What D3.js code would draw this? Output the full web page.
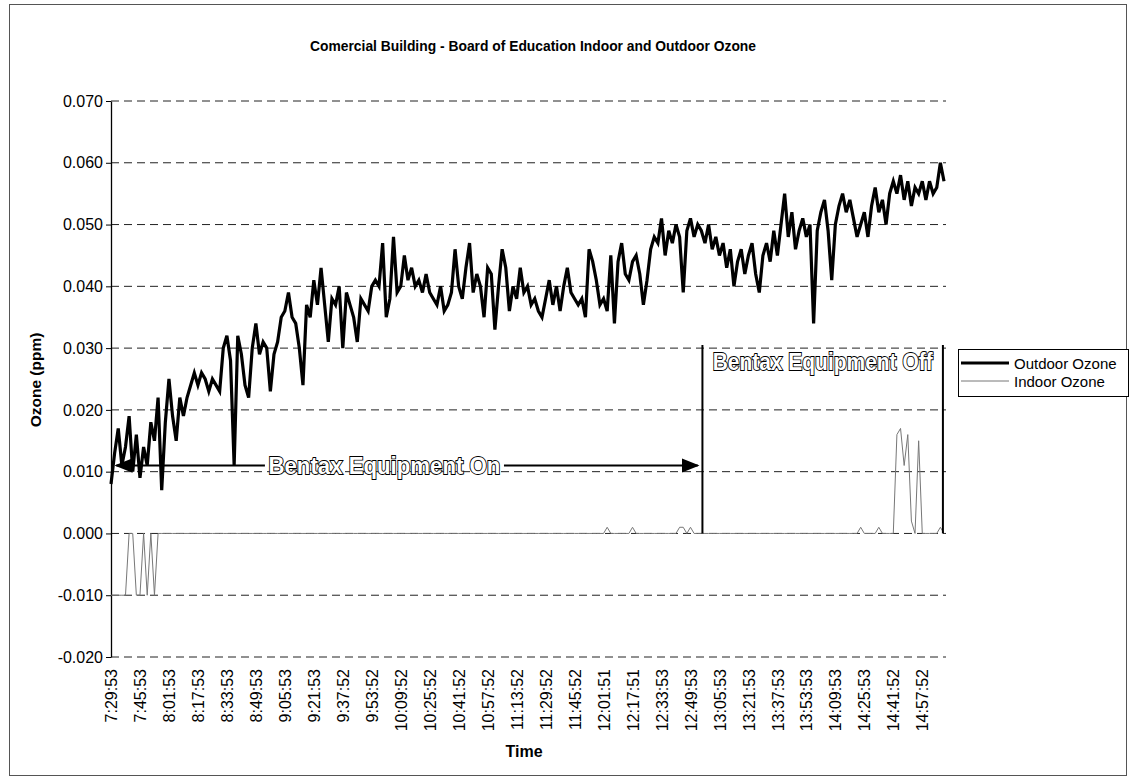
<!DOCTYPE html>
<html>
<head>
<meta charset="utf-8">
<script src="https://cdn.jsdelivr.net/npm/d3@7"></script>
<style>
  body { margin: 0; background: #fff; }
  svg { display: block; font-family: Arial, "Liberation Sans", sans-serif; }
</style>
</head>
<body>
<div id="chart"></div>
<script>
// samples every 2 minutes starting 7:29:53, a label every 8th sample
var timeLabels = ['7:29:53', '7:45:53', '8:01:53', '8:17:53', '8:33:53', '8:49:53', '9:05:53', '9:21:53',
    '9:37:52', '9:53:52', '10:09:52', '10:25:52', '10:41:52', '10:57:52', '11:13:52', '11:29:52',
    '11:45:52', '12:01:51', '12:17:51', '12:33:53', '12:49:53', '13:05:53', '13:21:53', '13:37:53',
    '13:53:53', '14:09:53', '14:25:53', '14:41:52', '14:57:52'];

var yTicks = [-0.02, -0.01, 0, 0.01, 0.02, 0.03, 0.04, 0.05, 0.06, 0.07];

var outdoorOzone = [
    0.008, 0.013, 0.017, 0.011, 0.014, 0.019, 0.010, 0.016,
    0.009, 0.014, 0.011, 0.018, 0.015, 0.022, 0.007, 0.018,
    0.025, 0.019, 0.015, 0.022, 0.019, 0.022, 0.024, 0.026,
    0.024, 0.026, 0.025, 0.023, 0.025, 0.024, 0.023, 0.030,
    0.032, 0.028, 0.011, 0.032, 0.029, 0.024, 0.022, 0.030,
    0.034, 0.029, 0.031, 0.030, 0.023, 0.029, 0.031, 0.035,
    0.036, 0.039, 0.035, 0.034, 0.030, 0.024, 0.037, 0.035,
    0.041, 0.037, 0.043, 0.037, 0.031, 0.038, 0.037, 0.040,
    0.030, 0.039, 0.037, 0.035, 0.031, 0.038, 0.037, 0.036,
    0.040, 0.041, 0.040, 0.047, 0.035, 0.038, 0.048, 0.039,
    0.040, 0.045, 0.041, 0.043, 0.040, 0.041, 0.039, 0.042,
    0.039, 0.038, 0.037, 0.040, 0.036, 0.037, 0.039, 0.046,
    0.040, 0.038, 0.043, 0.047, 0.039, 0.042, 0.040, 0.035,
    0.043, 0.042, 0.033, 0.040, 0.046, 0.043, 0.036, 0.040,
    0.038, 0.043, 0.039, 0.040, 0.037, 0.038, 0.036, 0.035,
    0.038, 0.041, 0.037, 0.040, 0.036, 0.040, 0.043, 0.039,
    0.038, 0.037, 0.038, 0.035, 0.046, 0.044, 0.041, 0.037,
    0.038, 0.036, 0.045, 0.034, 0.044, 0.047, 0.042, 0.041,
    0.044, 0.045, 0.042, 0.037, 0.041, 0.046, 0.048, 0.047,
    0.051, 0.045, 0.049, 0.047, 0.050, 0.048, 0.039, 0.049,
    0.051, 0.048, 0.050, 0.049, 0.047, 0.050, 0.046, 0.048,
    0.045, 0.047, 0.043, 0.046, 0.040, 0.044, 0.046, 0.042,
    0.045, 0.047, 0.042, 0.039, 0.045, 0.047, 0.044, 0.049,
    0.045, 0.050, 0.055, 0.048, 0.052, 0.046, 0.049, 0.051,
    0.048, 0.050, 0.034, 0.049, 0.052, 0.054, 0.049, 0.041,
    0.050, 0.053, 0.055, 0.052, 0.054, 0.051, 0.048, 0.050,
    0.052, 0.048, 0.053, 0.056, 0.052, 0.054, 0.050, 0.055,
    0.057, 0.055, 0.058, 0.054, 0.057, 0.053, 0.056, 0.055,
    0.057, 0.054, 0.057, 0.055, 0.056, 0.060, 0.057
];

var indoorOzone = [
    -0.010, -0.010, -0.010, -0.010, -0.010, 0, 0, -0.010,
    -0.010, 0, -0.010, 0, -0.010, 0, 0, 0,
    0, 0, 0, 0, 0, 0, 0, 0,
    0, 0, 0, 0, 0, 0, 0, 0,
    0, 0, 0, 0, 0, 0, 0, 0,
    0, 0, 0, 0, 0, 0, 0, 0,
    0, 0, 0, 0, 0, 0, 0, 0,
    0, 0, 0, 0, 0, 0, 0, 0,
    0, 0, 0, 0, 0, 0, 0, 0,
    0, 0, 0, 0, 0, 0, 0, 0,
    0, 0, 0, 0, 0, 0, 0, 0,
    0, 0, 0, 0, 0, 0, 0, 0,
    0, 0, 0, 0, 0, 0, 0, 0,
    0, 0, 0, 0, 0, 0, 0, 0,
    0, 0, 0, 0, 0, 0, 0, 0,
    0, 0, 0, 0, 0, 0, 0, 0,
    0, 0, 0, 0, 0, 0, 0, 0,
    0, 0.001, 0, 0, 0, 0, 0, 0,
    0.001, 0, 0, 0, 0, 0, 0, 0,
    0, 0, 0, 0, 0, 0.001, 0.001, 0,
    0.001, 0, 0, 0, 0, 0, 0, 0,
    0, 0, 0, 0, 0, 0, 0, 0,
    0, 0, 0, 0, 0, 0, 0, 0,
    0, 0, 0, 0, 0, 0, 0, 0,
    0, 0, 0, 0, 0, 0, 0, 0,
    0, 0, 0, 0, 0, 0, 0, 0.001,
    0, 0, 0, 0, 0.001, 0, 0, 0,
    0, 0.016, 0.017, 0.011, 0.016, 0.002, 0, 0.015,
    0, 0, 0, 0, 0, 0.001, 0
];

var totalWidth = 1131;
var totalHeight = 778;
var plot = { left: 111, right: 944, top: 101, bottom: 657 };
var fontStack = 'Arial, "Liberation Sans", sans-serif';

var svg = d3.select('#chart').append('svg')
    .attr('width', totalWidth)
    .attr('height', totalHeight);

// outer frame
svg.append('rect')
    .attr('x', 9.5).attr('y', 4.5)
    .attr('width', 1117).attr('height', 771)
    .attr('fill', 'none').attr('stroke', '#555').attr('stroke-width', 1);

var xScale = d3.scaleLinear()
    .domain([0, outdoorOzone.length - 1])
    .range([plot.left, plot.right]);

var yScale = d3.scaleLinear()
    .domain([-0.02, 0.07])
    .range([plot.bottom, plot.top]);

// dashed gridlines
svg.append('g').selectAll('line')
    .data(yTicks)
    .enter()
    .append('line')
    .attr('x1', plot.left).attr('x2', plot.right + 2)
    .attr('y1', d => yScale(d)).attr('y2', d => yScale(d))
    .attr('stroke', '#222').attr('stroke-width', 1)
    .attr('stroke-dasharray', '8,5');

// y axis
var yAxis = d3.axisLeft(yScale)
    .tickValues(yTicks)
    .tickFormat(d => d.toFixed(3))
    .tickSizeInner(5).tickSizeOuter(0).tickPadding(3);
var yAxisGroup = svg.append('g')
    .attr('transform', `translate(${plot.left},0)`)
    .call(yAxis);
yAxisGroup.selectAll('path').attr('stroke', '#000').attr('stroke-width', 1.3);
yAxisGroup.selectAll('line').attr('stroke', '#000');
yAxisGroup.selectAll('text').attr('fill', '#000').attr('font-size', 16)
    .attr('font-family', fontStack);

// x axis (labels only, category style)
var xAxis = d3.axisBottom(xScale)
    .tickValues(timeLabels.map((t, i) => i * 8))
    .tickFormat((d, i) => timeLabels[i])
    .tickSize(0);
var xAxisGroup = svg.append('g')
    .attr('transform', `translate(0,${plot.bottom})`)
    .call(xAxis);
xAxisGroup.select('.domain').remove();
xAxisGroup.selectAll('text')
    .attr('fill', '#000').attr('font-size', 16)
    .attr('font-family', fontStack)
    .attr('text-anchor', 'end')
    .attr('dy', '0.35em')
    .attr('transform', 'translate(0,12) rotate(-90)')
    .attr('x', 0).attr('y', 0);

// series
var line = d3.line()
    .x((d, i) => xScale(i))
    .y(d => yScale(d));

svg.append('path')
    .datum(indoorOzone)
    .attr('d', line)
    .attr('fill', 'none')
    .attr('stroke', '#777')
    .attr('stroke-width', 1);

svg.append('path')
    .datum(outdoorOzone)
    .attr('d', line)
    .attr('fill', 'none')
    .attr('stroke', '#000')
    .attr('stroke-width', 3.2)
    .attr('stroke-linejoin', 'miter');

// annotations
var markerDefs = svg.append('defs');
markerDefs.append('marker')
    .attr('id', 'arrow')
    .attr('viewBox', '0 0 10 10')
    .attr('refX', 9).attr('refY', 5)
    .attr('markerWidth', 9).attr('markerHeight', 9)
    .attr('orient', 'auto-start-reverse')
    .append('path')
    .attr('d', 'M0,1 L10,5 L0,9 Z')
    .attr('fill', '#000');

var arrowY = yScale(0.0110);
svg.append('line')
    .attr('x1', xScale(1.5)).attr('x2', xScale(42.5))
    .attr('y1', arrowY).attr('y2', arrowY)
    .attr('stroke', '#000').attr('stroke-width', 2)
    .attr('marker-start', 'url(#arrow)');
svg.append('line')
    .attr('x1', xScale(108.5)).attr('x2', xScale(162))
    .attr('y1', arrowY).attr('y2', arrowY)
    .attr('stroke', '#000').attr('stroke-width', 2)
    .attr('marker-end', 'url(#arrow)');

function outlinedText(x, y, txt, len) {
    svg.append('text')
        .attr('x', x).attr('y', y)
        .attr('text-anchor', 'middle')
        .attr('font-size', 23).attr('font-weight', 'bold')
        .attr('font-family', fontStack)
        .attr('textLength', len).attr('lengthAdjust', 'spacingAndGlyphs')
        .attr('fill', '#fff')
        .attr('stroke', '#000').attr('stroke-width', 1.8)
        .attr('paint-order', 'stroke')
        .style('opacity', 0.999)
        .text(txt);
}
outlinedText(xScale(75.5), arrowY + 9, 'Bentax Equipment On', 232);

[163.3, 229.7].forEach(function(i) {
    svg.append('line')
        .attr('x1', xScale(i)).attr('x2', xScale(i))
        .attr('y1', yScale(0.0305)).attr('y2', yScale(0))
        .attr('stroke', '#000').attr('stroke-width', 2);
});
outlinedText((xScale(163.3) + xScale(229.7)) / 2, yScale(0.0265), 'Bentax Equipment Off', 220);

// titles
svg.append('text')
    .attr('x', 533).attr('y', 51)
    .attr('text-anchor', 'middle')
    .attr('font-size', 15.5).attr('font-weight', 'bold')
    .attr('textLength', 446).attr('lengthAdjust', 'spacingAndGlyphs')
    .text('Comercial Building - Board of Education Indoor and Outdoor Ozone');

svg.append('text')
    .attr('transform', 'translate(41,380) rotate(-90)')
    .attr('text-anchor', 'middle')
    .attr('font-size', 15.5).attr('font-weight', 'bold')
    .text('Ozone (ppm)');

svg.append('text')
    .attr('x', 524).attr('y', 757)
    .attr('text-anchor', 'middle')
    .attr('font-size', 16).attr('font-weight', 'bold')
    .text('Time');

// legend
var legend = svg.append('g').attr('transform', 'translate(958,349)');
legend.append('rect')
    .attr('x', 0.5).attr('y', 0.5)
    .attr('width', 170).attr('height', 47)
    .attr('fill', '#fff').attr('stroke', '#000').attr('stroke-width', 1);
var legendItems = [
    { name: 'Outdoor Ozone', color: '#000', width: 3 },
    { name: 'Indoor Ozone', color: '#777', width: 1 }
];
legendItems.forEach(function(d, i) {
    var ly = 14 + i * 18;
    legend.append('line')
        .attr('x1', 3).attr('x2', 51)
        .attr('y1', ly).attr('y2', ly)
        .attr('stroke', d.color).attr('stroke-width', d.width);
    legend.append('text')
        .attr('x', 56).attr('y', ly + 5.5)
        .attr('font-size', 15)
        .text(d.name);
});
</script>
</body>
</html>
